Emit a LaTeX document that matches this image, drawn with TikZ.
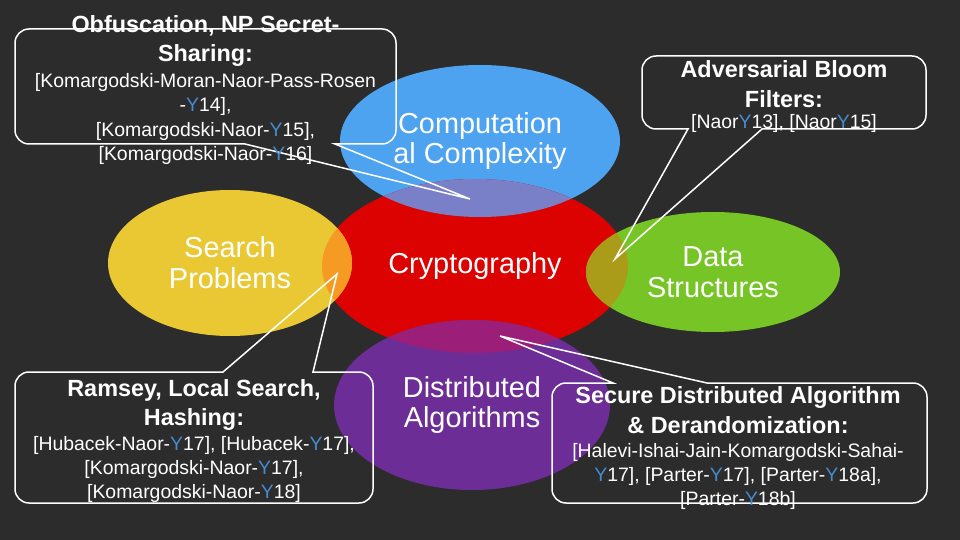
\documentclass[tikz,border=0pt]{standalone}
\usepackage{fontspec}
\setmainfont{Liberation Sans}
\usepackage{xcolor}
\usepackage{tikz}
\usetikzlibrary{shapes.geometric}

\definecolor{slate}{RGB}{44,44,44}
\definecolor{compblue}{RGB}{77,163,240}
\definecolor{cryptred}{RGB}{221,2,2}
\definecolor{searchyellow}{RGB}{233,200,52}
\definecolor{datagreen}{RGB}{118,196,38}
\definecolor{distpurple}{RGB}{108,46,150}
\definecolor{mixblue}{RGB}{122,128,200}
\definecolor{mixyellow}{RGB}{245,155,35}
\definecolor{mixgreen}{RGB}{170,155,25}
\definecolor{mixpurple}{RGB}{155,30,120}
\definecolor{yearblue}{RGB}{70,140,210}

\newcommand{\yr}{\textcolor{yearblue}{Y}}

\tikzset{
  bubble/.style={ellipse, inner sep=0pt, text=white, align=center,
    font=\fontsize{29}{31}\selectfont},
  callout/.style={draw=white, line width=1.5bp},
  ctitle/.style={text=white, align=center, inner sep=0pt,
    font=\fontsize{23.5}{30}\selectfont\bfseries},
  cref/.style={text=white, align=center, inner sep=0pt,
    font=\fontsize{19.5}{24.5}\selectfont}
}

\begin{document}
\begin{tikzpicture}[x=1bp, y=-1bp]
% Background
\fill[slate] (0,0) rectangle (960,540);
\useasboundingbox (0,0) rectangle (960,540);

% Topic ellipses
\node[bubble, fill=compblue, minimum width=280bp, minimum height=152bp] (comp) at (480,141) {Computation\\al Complexity};
\node[bubble, fill=cryptred, minimum width=306bp, minimum height=174bp] (crypt) at (475,266) {Cryptography};
\node[bubble, fill=searchyellow, minimum width=244bp, minimum height=146bp] (search) at (230,263) {Search\\Problems};
\node[bubble, fill=datagreen, minimum width=254bp, minimum height=120bp] (data) at (713,272) {Data\\Structures};
\node[bubble, fill=distpurple, minimum width=276bp, minimum height=170bp] (dist) at (472,405) {Distributed\\Algorithms};

% Overlaps with cryptography
\begin{scope}
\clip (crypt.center) ellipse [x radius=153bp, y radius=87bp];
\fill[mixblue] (comp.center) ellipse [x radius=140bp, y radius=76bp];
\fill[mixyellow] (search.center) ellipse [x radius=122bp, y radius=73bp];
\fill[mixgreen] (data.center) ellipse [x radius=127bp, y radius=60bp];
\fill[mixpurple] (dist.center) ellipse [x radius=138bp, y radius=85bp];
\end{scope}

% Callout tips
\coordinate (obftip) at (470,199);
\coordinate (bloomtip) at (615,259);
\coordinate (ramtip) at (337,274);
\coordinate (sectip) at (500,336);

% Callout outlines
\draw[callout] (15,90) [rounded corners=14bp] -- (15,29) -- (396,29) -- (396,144)
  [sharp corners] -- (335,144) -- (obftip) -- (245,144) [rounded corners=14bp] -- (15,144) -- cycle;
\draw[callout] (642,90) [rounded corners=14bp] -- (642,56) -- (926,56) -- (926,129)
  [sharp corners] -- (762,129) -- (bloomtip) -- (688,129) [rounded corners=14bp] -- (642,129) -- cycle;
\draw[callout] (15,440) [rounded corners=14bp] -- (15,372)
  [sharp corners] -- (223,372) -- (ramtip) -- (313,372) [rounded corners=14bp] -- (373,372) -- (373,503) -- (15,503) -- cycle;
\draw[callout] (552,440) [rounded corners=14bp] -- (552,383)
  [sharp corners] -- (613,383) -- (sectip) -- (707,383) [rounded corners=14bp] -- (927,383) -- (927,503) -- (552,503) -- cycle;

% Callout texts
\node[ctitle] (obftitle) at (205.5,41) {Obfuscation, NP Secret-\\Sharing:};
\node[cref] (obfrefs) at (205.5,119) {{[}Komargodski-Moran-Naor-Pass-Rosen\\-\yr14],\\{[}Komargodski-Naor-\yr15],\\{[}Komargodski-Naor-\yr16]};

\node[ctitle] (bloomtitle) at (784,84.5) {Adversarial Bloom\\Filters:};
\node[cref] (bloomrefs) at (784,123) {{[}Naor\yr13], [Naor\yr15]};

\node[ctitle] (ramtitle) at (194,405) {Ramsey, Local Search,\\Hashing:};
\node[cref] (ramrefs) at (194,469.5) {{[}Hubacek-Naor-\yr17], [Hubacek-\yr17],\\{[}Komargodski-Naor-\yr17],\\{[}Komargodski-Naor-\yr18]};

\node[ctitle] (sectitle) at (738,410.5) {Secure Distributed Algorithm\\\& Derandomization:};
\node[cref] (secrefs) at (738,476.5) {{[}Halevi-Ishai-Jain-Komargodski-Sahai-\\\yr17], [Parter-\yr17], [Parter-\yr18a],\\{[}Parter-\yr18b]};
\end{tikzpicture}
\end{document}
